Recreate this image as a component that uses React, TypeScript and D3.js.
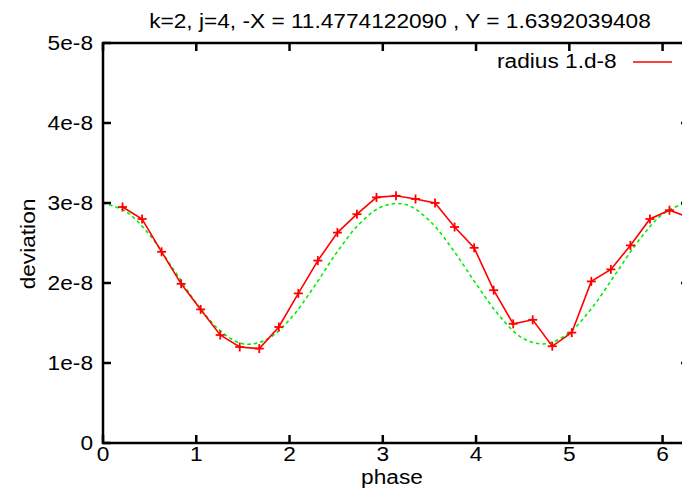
import React from "react";
import * as d3 from "d3";

const title = "k=2, j=4, -X = 11.4774122090 , Y = 1.6392039408";
const xLabel = "phase";
const yLabel = "deviation";
const legendLabel = "radius 1.d-8";

const xTicks = [0, 1, 2, 3, 4, 5, 6];
const yTicks = [0, 1e-8, 2e-8, 3e-8, 4e-8, 5e-8];
const yTickLabels = ["0", "1e-8", "2e-8", "3e-8", "4e-8", "5e-8"];

// red measured series (phase, deviation in units of 1e-8)
const redPhase = [
  0.2094, 0.4189, 0.6283, 0.8378, 1.0472, 1.2566, 1.4661, 1.6755, 1.885, 2.0944,
  2.3038, 2.5133, 2.7227, 2.9322, 3.1416, 3.351, 3.5605, 3.7699, 3.9794, 4.1888,
  4.3982, 4.6077, 4.8171, 5.0265, 5.236, 5.4454, 5.6549, 5.8643, 6.0737, 6.2832,
];
const redValue = [
  2.95, 2.8, 2.39, 1.99, 1.67, 1.35, 1.2, 1.18, 1.45, 1.87,
  2.28, 2.63, 2.86, 3.07, 3.09, 3.05, 3.0, 2.7, 2.44, 1.91,
  1.49, 1.54, 1.21, 1.38, 2.02, 2.17, 2.47, 2.8, 2.91, 2.82,
];

// green reference curve (phase, deviation in units of 1e-8)
const greenPhase = [
  0, 0.25, 0.5, 0.75, 1.0, 1.25, 1.5, 1.75, 2.0, 2.25, 2.5, 2.75, 3.0, 3.25,
  3.5, 3.75, 4.0, 4.25, 4.5, 4.75, 5.0, 5.25, 5.5, 5.75, 6.0, 6.25, 6.2832,
];
const greenValue = [
  3.0, 2.89, 2.6, 2.18, 1.75, 1.41, 1.24, 1.29, 1.54, 1.93, 2.37, 2.74, 2.96, 2.98,
  2.78, 2.42, 1.99, 1.59, 1.31, 1.24, 1.38, 1.7, 2.12, 2.54, 2.86, 3.0, 3.0,
];

const W = 682;
const H = 491;
const left = 103;
const right = 689;
const top = 43;
const bottom = 443;
const FONT = "'Liberation Sans', Arial, sans-serif";
const FS = 21;
const SX = 1.08;

export default function App() {
  const x = d3.scaleLinear().domain([0, 2 * Math.PI]).range([left, right]);
  const y = d3.scaleLinear().domain([0, 5e-8]).range([bottom, top]);

  const red = redPhase.map((p, i) => [p, redValue[i] * 1e-8] as [number, number]);
  const green = greenPhase.map((p, i) => [p, greenValue[i] * 1e-8] as [number, number]);

  const line = d3
    .line<[number, number]>()
    .x((d) => x(d[0]))
    .y((d) => y(d[1]));
  const smooth = d3
    .line<[number, number]>()
    .x((d) => x(d[0]))
    .y((d) => y(d[1]))
    .curve(d3.curveCatmullRom);

  const T = 8;

  const txt = (
    s: string,
    tx: number,
    ty: number,
    anchor: string,
    extra: any = {}
  ) => (
    <text
      transform={`translate(${tx},${ty}) scale(${SX},1)`}
      textAnchor={anchor}
      fontFamily={FONT}
      fontSize={FS}
      fill="#000"
      {...extra}
    >
      {s}
    </text>
  );

  return (
    <svg
      width={W}
      height={H}
      style={{ position: "fixed", left: 0, top: 0, display: "block", background: "#fff" }}
    >
      <rect x={0} y={0} width={W} height={H} fill="#fff" />
      <defs>
        <clipPath id="plot">
          <rect x={left} y={top} width={right - left} height={bottom - top} />
        </clipPath>
      </defs>

      {/* data */}
      <g clipPath="url(#plot)">
        <path
          d={smooth(green) || ""}
          fill="none"
          stroke="#00ee00"
          strokeWidth={1.6}
          strokeDasharray="3.5,3"
        />
        <path d={line(red) || ""} fill="none" stroke="#ff0000" strokeWidth={1.6} />
        {red.map((d, i) => (
          <g key={i} transform={`translate(${x(d[0])},${y(d[1])})`}>
            <line x1={-4.5} x2={4.5} y1={0} y2={0} stroke="#ff0000" strokeWidth={1.8} />
            <line x1={0} x2={0} y1={-4.5} y2={4.5} stroke="#ff0000" strokeWidth={1.8} />
          </g>
        ))}
      </g>

      {/* ticks */}
      {xTicks.map((t) => (
        <g key={"xt" + t}>
          <line x1={x(t)} x2={x(t)} y1={bottom} y2={bottom - T} stroke="#000" strokeWidth={2.5} />
          <line x1={x(t)} x2={x(t)} y1={top} y2={top + T} stroke="#000" strokeWidth={2.5} />
          {txt(String(t), x(t), bottom + 18, "middle")}
        </g>
      ))}
      {yTicks.map((t, i) => (
        <g key={"yt" + i}>
          <line x1={left} x2={left + T} y1={y(t)} y2={y(t)} stroke="#000" strokeWidth={2.5} />
          <line x1={right} x2={right - T} y1={y(t)} y2={y(t)} stroke="#000" strokeWidth={2.5} />
          {txt(yTickLabels[i], left - 10, y(t) + 7, "end")}
        </g>
      ))}

      {/* border */}
      <rect
        x={left}
        y={top}
        width={right - left}
        height={bottom - top}
        fill="none"
        stroke="#000"
        strokeWidth={2.5}
      />

      {/* labels */}
      {txt(title, 400, 28, "middle")}
      {txt(xLabel, 392, 484, "middle")}
      <text
        transform={`translate(35,244) rotate(-90) scale(${SX},1)`}
        textAnchor="middle"
        fontFamily={FONT}
        fontSize={FS}
        fill="#000"
      >
        {yLabel}
      </text>

      {/* legend */}
      {txt(legendLabel, 497, 68, "start")}
      <line x1={633} x2={672} y1={62} y2={62} stroke="#ff0000" strokeWidth={1.6} />
    </svg>
  );
}
